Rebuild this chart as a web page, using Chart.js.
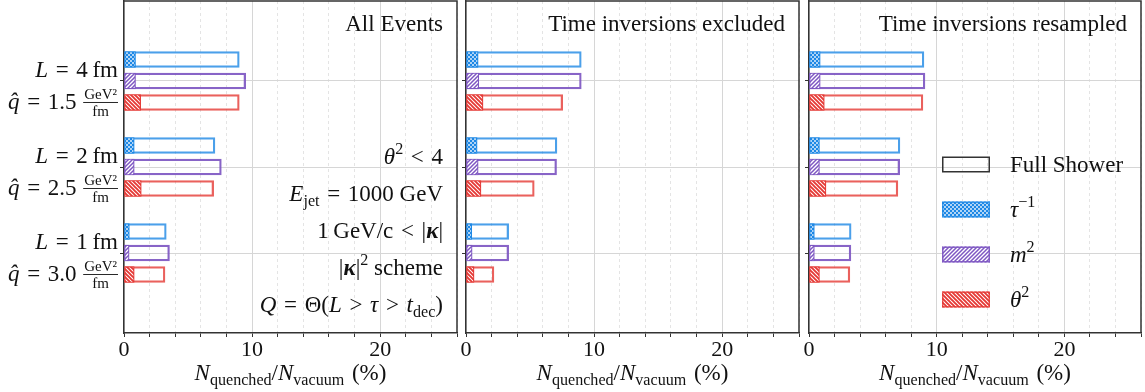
<!DOCTYPE html>
<html>
<head>
<meta charset="utf-8">
<title>Quenched fraction</title>
<script src="https://cdn.jsdelivr.net/npm/chart.js@4.4.1/dist/chart.umd.min.js"></script>
<style>
  html, body { margin: 0; padding: 0; background: #fff; }
  body { position: relative; width: 1145px; height: 392px; overflow: hidden; }
  .panel { position: absolute; top: 0; height: 392px; }
</style>
</head>
<body>
<div class="panel" style="left:0;width:458px"><canvas id="panelAll"></canvas></div>
<div class="panel" style="left:458px;width:342px"><canvas id="panelExcl"></canvas></div>
<div class="panel" style="left:800px;width:345px"><canvas id="panelRes"></canvas></div>
<script>
// y positions of the (L, q-hat) settings, top to bottom
const groupPos = [2, 1, 0];
const lengthsFm = ['4', '2', '1'];
const qhatValues = ['1.5', '2.5', '3.0'];
const panelTitles = ['All Events', 'Time inversions excluded', 'Time inversions resampled'];

// N_quenched / N_vacuum in %, rows: tau^-1, m^2, theta^2; columns: L = 4, 2, 1 fm
const allFull = [[9.0, 7.1, 3.3], [9.5, 7.6, 3.55], [9.0, 7.0, 3.2]];
const allQuenched = [[0.9, 0.8, 0.42], [0.9, 0.8, 0.4], [1.3, 1.35, 0.8]];
const exclFull = [[9.0, 7.1, 3.33], [9.0, 7.07, 3.33], [7.55, 5.33, 2.18]];
const exclQuenched = [[0.95, 0.87, 0.45], [1.0, 0.95, 0.48], [1.33, 1.17, 0.63]];
const resFull = [[9.0, 7.12, 3.3], [9.08, 7.1, 3.28], [8.92, 6.96, 3.2]];
const resQuenched = [[0.88, 0.82, 0.42], [0.88, 0.82, 0.42], [1.2, 1.33, 0.82]];

const SERIF = "'Liberation Serif', 'DejaVu Serif', serif";
const INK = '#111111';
const FRAME = '#333333';
const seriesColors = ['#1e88e5', '#7e57c2', '#e53935'];
const seriesOutline = ['rgba(30,136,229,0.8)', 'rgba(126,87,194,0.92)', 'rgba(229,57,53,0.8)'];
const hatchKinds = ['cross', 'fwd', 'back'];
const barOffset = [0.25, 0, -0.25]; // tau^-1 above, theta^2 below the group centre

function makePattern(color, kind) {
    const n = 4;
    const c = document.createElement('canvas');
    c.width = c.height = n;
    const g = c.getContext('2d');
    g.fillStyle = '#fff';
    g.fillRect(0, 0, n, n);
    if (kind === 'cross') {
        g.fillStyle = color;
        g.fillRect(0, 0, 2, 2);
        g.fillRect(2, 2, 2, 2);
        g.globalAlpha = 0.35;
        g.fillRect(2, 0, 2, 2);
        g.fillRect(0, 2, 2, 2);
    } else {
        g.strokeStyle = color;
        g.lineWidth = kind === 'back' ? 1.9 : 1.5;
        g.beginPath();
        if (kind === 'fwd') {
            g.moveTo(-1, n + 1); g.lineTo(n + 1, -1);
            g.moveTo(-1, 1); g.lineTo(1, -1);
            g.moveTo(n - 1, n + 1); g.lineTo(n + 1, n - 1);
        } else {
            g.moveTo(-1, -1); g.lineTo(n + 1, n + 1);
            g.moveTo(n - 1, -1); g.lineTo(n + 1, 1);
            g.moveTo(-1, n - 1); g.lineTo(1, n + 1);
        }
        g.stroke();
    }
    return g.createPattern(c, 'repeat');
}

// runs are [text, style]: 'r' roman, 'i' italic, 'b' bold italic, '^' / '_' suffix for scripts
function mathFont(style, size) {
    const base = style.replace(/[\^_]/, '');
    const px = /[\^_]/.test(style) ? size * 0.7 : size;
    const face = base === 'i' ? 'italic ' : base === 'b' ? 'italic bold ' : '';
    return face + px.toFixed(1) + 'px ' + SERIF;
}

function drawMath(ctx, runs, x, y, size, align) {
    let w = 0;
    for (const [t, st] of runs) {
        ctx.font = mathFont(st, size);
        w += ctx.measureText(t).width;
    }
    let cx = align === 'right' ? x - w : align === 'center' ? x - w / 2 : x;
    ctx.textAlign = 'left';
    ctx.textBaseline = 'alphabetic';
    for (const [t, st] of runs) {
        ctx.font = mathFont(st, size);
        const dy = st.includes('^') ? -size * 0.4 : st.includes('_') ? size * 0.22 : 0;
        ctx.fillText(t, cx, y + dy);
        cx += ctx.measureText(t).width;
    }
    return w;
}

const EQ = '\u2004=\u2004';

function drawGroupLabels(chart) {
    const { ctx, chartArea: a } = chart;
    const yScale = chart.scales.y;
    const xr = a.left - 6;
    groupPos.forEach((p, g) => {
        const py = yScale.getPixelForValue(p);
        drawMath(ctx, [['L', 'i'], [EQ + lengthsFm[g] + '\u2009fm', 'r']], xr, py - 4, 23, 'right');
        // GeV^2 / fm fraction
        ctx.font = '15px ' + SERIF;
        const num = 'GeV\u00b2';
        const fw = ctx.measureText(num).width + 2;
        const fc = xr - fw / 2;
        ctx.textAlign = 'center';
        ctx.fillText(num, fc, py + 18);
        ctx.fillText('fm', fc, py + 35);
        ctx.fillRect(xr - fw, py + 21, fw, 0.9);
        drawMath(ctx, [['q\u0302', 'i'], [EQ + qhatValues[g] + '\u2009', 'r']], xr - fw - 2, py + 28, 23, 'right');
    });
}

function drawNotes(chart) {
    const { ctx, chartArea: a } = chart;
    const xr = a.right - 14;
    const lines = [
        [['θ', 'i'], ['2', 'r^'], ['\u2004<\u20044', 'r']],
        [['E', 'i'], ['jet', 'r_'], [EQ + '1000 GeV', 'r']],
        [['1\u2009GeV/c\u2004<\u2004|', 'r'], ['κ', 'b'], ['|', 'r']],
        [['|', 'r'], ['κ', 'b'], ['|', 'r'], ['2', 'r^'], [' scheme', 'r']],
        [['Q', 'i'], [EQ + 'Θ(', 'r'], ['L', 'i'], ['\u2004>\u2004', 'r'], ['τ', 'i'],
         ['\u2004>\u2004', 'r'], ['t', 'i'], ['dec', 'r_'], [')', 'r']]
    ];
    lines.forEach((runs, i) => drawMath(ctx, runs, xr, 163.5 + i * 37, 23, 'right'));
}

function drawLegend(chart, patterns) {
    const { ctx, chartArea: a } = chart;
    const items = [
        { runs: [['Full Shower', 'r']], fill: null, stroke: FRAME },
        { runs: [['τ', 'i'], ['\u22121', 'r^']], fill: patterns[0], stroke: seriesOutline[0] },
        { runs: [['m', 'i'], ['2', 'r^']], fill: patterns[1], stroke: seriesOutline[1] },
        { runs: [['θ', 'i'], ['2', 'r^']], fill: patterns[2], stroke: seriesOutline[2] }
    ];
    const x0 = a.left + 133;
    items.forEach((it, i) => {
        const cy = 164.5 + i * 45;
        if (it.fill) {
            ctx.fillStyle = it.fill;
            ctx.fillRect(x0, cy - 8, 48, 16);
        }
        ctx.strokeStyle = it.stroke;
        ctx.lineWidth = 1.5;
        ctx.strokeRect(x0 + 0.75, cy - 7.25, 46.5, 14.5);
        ctx.fillStyle = INK;
        drawMath(ctx, it.runs, x0 + 68, cy + 7, 23, 'left');
    });
}

function buildPanel(canvasId, idx, full, quenched, yWidth, padRight) {
    const patterns = seriesColors.map((c, s) => makePattern(c, hatchKinds[s]));
    const datasets = [];
    // hatched quenched part, drawn on top
    for (let s = 0; s < 3; s++) {
        datasets.push({
            data: groupPos.map((p, g) => ({ x: quenched[s][g], y: p + barOffset[s] })),
            backgroundColor: patterns[s],
            borderColor: seriesColors[s],
            borderWidth: 1.2,
            borderSkipped: false,
            barThickness: 16,
            grouped: false,
            order: 0
        });
    }
    // full shower outline
    for (let s = 0; s < 3; s++) {
        datasets.push({
            data: groupPos.map((p, g) => ({ x: full[s][g], y: p + barOffset[s] })),
            backgroundColor: 'rgba(0,0,0,0)',
            borderColor: seriesOutline[s],
            borderWidth: 1.6,
            borderSkipped: false,
            barThickness: 16,
            grouped: false,
            order: 1
        });
    }

    const overlay = {
        id: 'panelOverlay',
        afterDraw(chart) {
            const { ctx, chartArea: a } = chart;
            ctx.save();
            ctx.strokeStyle = FRAME;
            ctx.lineWidth = 1.5;
            ctx.beginPath();
            ctx.moveTo(a.left, a.top);
            ctx.lineTo(a.right, a.top);
            ctx.lineTo(a.right, a.bottom);
            ctx.stroke();

            ctx.fillStyle = INK;
            drawMath(ctx, [[panelTitles[idx], 'r']], a.right - 14, 31, 23, 'right');
            drawMath(ctx, [['N', 'i'], ['quenched', 'r_'], ['/', 'r'], ['N', 'i'], ['vacuum', 'r_'], ['\u2004(%)', 'r']],
                (a.left + a.right) / 2, 380, 23, 'center');

            if (idx === 0) {
                drawGroupLabels(chart);
                drawNotes(chart);
            }
            if (idx === 2) drawLegend(chart, patterns);
            ctx.restore();
        }
    };

    return new Chart(document.getElementById(canvasId), {
        type: 'bar',
        data: { datasets },
        options: {
            indexAxis: 'y',
            responsive: true,
            maintainAspectRatio: false,
            animation: false,
            events: [],
            layout: { padding: { top: 1, right: padRight, bottom: 0, left: 0 } },
            plugins: { legend: { display: false }, tooltip: { enabled: false } },
            scales: {
                x: {
                    type: 'linear',
                    min: 0,
                    max: 26,
                    ticks: {
                        stepSize: 2,
                        maxTicksLimit: 100,
                        autoSkip: false,
                        maxRotation: 0,
                        padding: 0,
                        color: INK,
                        font: { family: SERIF, size: 22 },
                        callback: v => (v % 10 === 0 ? String(v) : '')
                    },
                    grid: {
                        color: c => (c.tick && c.tick.value % 10 === 0 ? '#d6d6d6' : '#dedede'),
                        lineWidth: c => (c.tick && c.tick.value % 10 === 0 ? 1 : 0.8),
                        tickLength: 4,
                        tickColor: FRAME,
                        tickWidth: 1
                    },
                    border: {
                        color: FRAME,
                        width: 1.5,
                        dash: c => (c.tick && c.tick.value % 10 !== 0 ? [3, 3] : [])
                    },
                    afterFit: s => { s.height = 59; }
                },
                y: {
                    type: 'linear',
                    min: -0.93,
                    max: 2.93,
                    offset: false,
                    afterBuildTicks: s => { s.ticks = groupPos.map(v => ({ value: v })); },
                    ticks: { display: false },
                    grid: { offset: false, color: '#d6d6d6', lineWidth: 1, tickLength: 4, tickColor: FRAME },
                    border: { color: FRAME, width: 1.5 },
                    afterFit: s => { s.width = yWidth; }
                }
            }
        },
        plugins: [overlay]
    });
}

buildPanel('panelAll', 0, allFull, allQuenched, 124, 1);
buildPanel('panelExcl', 1, exclFull, exclQuenched, 8, 1);
buildPanel('panelRes', 2, resFull, resQuenched, 9, 4);
</script>
</body>
</html>
